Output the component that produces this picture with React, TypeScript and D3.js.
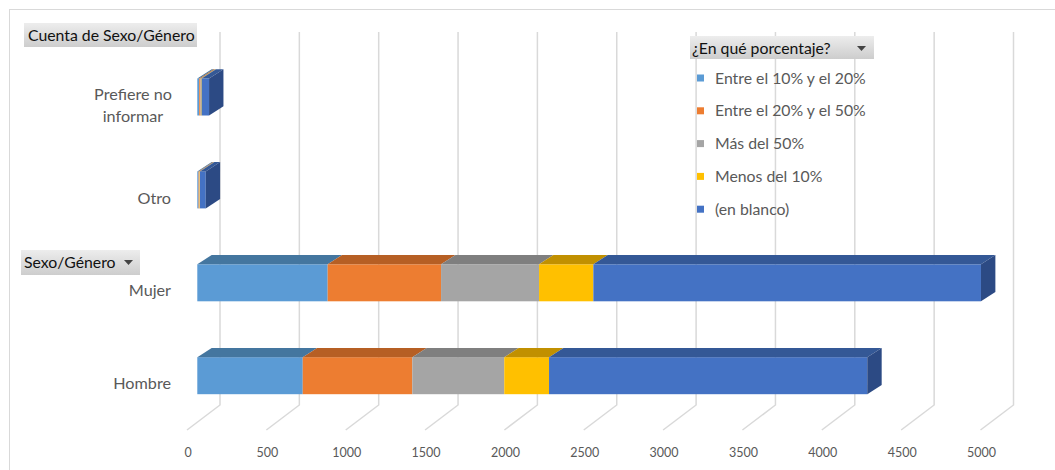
import React from "react";
import * as d3 from "d3";

const categories = ["Hombre", "Mujer", "Otro", "Prefiere no informar"];
const seriesNames = [
  "Entre el 10% y el 20%",
  "Entre el 20% y el 50%",
  "Más del 50%",
  "Menos del 10%",
  "(en blanco)",
];
const entre10y20 = [664, 821, 8, 12];
const entre20y50 = [690, 714, 5, 8];
const mas50 = [579, 617, 2, 3];
const menos10 = [282, 342, 2, 4];
const enBlanco = [2004, 2441, 36, 47];
const xTicks = [0, 500, 1000, 1500, 2000, 2500, 3000, 3500, 4000, 4500, 5000];

const frontColors = ["#5B9BD5", "#ED7D31", "#A5A5A5", "#FFC000", "#4472C4"];
const topColors = ["#44769F", "#B65F24", "#7F7F7F", "#C19000", "#345896"];
const sideColor = "#2C4A84";
const textColor = "#595959";
const gridColor = "#D9D9D9";
const FONT = "Lato, 'Open Sans', sans-serif";

export default function App() {
  const W = 1055;
  const H = 470;

  const rows = categories.map((c, i) => ({
    cat: c,
    s0: entre10y20[i],
    s1: entre20y50[i],
    s2: mas50[i],
    s3: menos10[i],
    s4: enBlanco[i],
  }));
  const keys = ["s0", "s1", "s2", "s3", "s4"];
  const stacked = d3.stack<any>().keys(keys)(rows);

  // front plane of bars
  const x = d3.scaleLinear().domain([0, 5000]).range([197.3, 991.3]);
  // back wall gridlines
  const xBack = d3.scaleLinear().domain([0, 5000]).range([220, 1013.5]);
  const floorDx = -33;
  const wallTop = 32;
  const wallBottom = 405;
  const floorFront = 430;

  const y = d3.scalePoint<string>().domain(categories).range([375.7, 97]);
  const barH = 37;
  const dx = 14.4;
  const dy = 9.3;

  const labelY: Record<string, number[]> = {
    Hombre: [383],
    Mujer: [290],
    Otro: [198],
    "Prefiere no informar": [94, 116],
  };

  const catFs = 16.2;
  const legFs = 15.8;

  return (
    <svg
      width={W}
      height={H}
      style={{ position: "absolute", left: 0, top: 0, background: "#fff" }}
      fontFamily={FONT}
    >
      <rect x={9.5} y={9.5} width={1100} height={500} fill="#fff" stroke={gridColor} strokeWidth={1} />
      <defs>
        <linearGradient id="btn" x1="0" y1="0" x2="0" y2="1">
          <stop offset="0" stopColor="#EDEDED" />
          <stop offset="1" stopColor="#CDCDCD" />
        </linearGradient>
      </defs>

      {/* gridlines */}
      {xTicks.map((t) => (
        <g key={t}>
          <polyline
            points={`${xBack(t)},${wallTop} ${xBack(t)},${wallBottom} ${xBack(t) + floorDx},${floorFront}`}
            fill="none"
            stroke={gridColor}
            strokeWidth={1.5}
          />
          <text
            x={xBack(t) + floorDx + 1}
            y={457}
            textAnchor="middle"
            fontSize={12.5}
            fill={textColor}
          >
            {t}
          </text>
        </g>
      ))}

      {/* bars */}
      {categories.map((c, ci) => {
        const yc = y(c)!;
        const yt = yc - barH / 2;
        const yb = yc + barH / 2;
        const last = stacked[stacked.length - 1][ci][1];
        const xe = x(last);
        return (
          <g key={c}>
            {stacked.map((s, si) => {
              const x0 = x(s[ci][0]);
              const x1 = x(s[ci][1]);
              return (
                <g key={si}>
                  <rect x={x0} y={yt} width={Math.max(0, x1 - x0)} height={barH} fill={frontColors[si]} />
                  <polygon
                    points={`${x0},${yt} ${x1},${yt} ${x1 + dx},${yt - dy} ${x0 + dx},${yt - dy}`}
                    fill={topColors[si]}
                  />
                </g>
              );
            })}
            <polygon
              points={`${xe},${yt} ${xe + dx},${yt - dy} ${xe + dx},${yb - dy} ${xe},${yb}`}
              fill={sideColor}
            />
          </g>
        );
      })}

      {/* category labels */}
      {categories.map((c) => {
        const ys = labelY[c];
        if (ys.length === 1) {
          return (
            <text key={c} x={171} y={ys[0] + 5.5} textAnchor="end" fontSize={catFs} fill={textColor}>
              {c}
            </text>
          );
        }
        return (
          <g key={c}>
            <text x={133} y={ys[0] + 5.5} textAnchor="middle" fontSize={catFs} fill={textColor}>
              Prefiere no
            </text>
            <text x={133} y={ys[1] + 5.5} textAnchor="middle" fontSize={catFs} fill={textColor}>
              informar
            </text>
          </g>
        );
      })}

      {/* field buttons */}
      <rect x={24} y={23} width={173} height={24} fill="url(#btn)" />
      <text x={28} y={40.5} fontSize={legFs} fill="#111">
        Cuenta de Sexo/Género
      </text>
      <rect x={21} y={250} width={119} height={25} fill="url(#btn)" />
      <text x={24} y={268} fontSize={legFs} fill="#111">
        Sexo/Género
      </text>
      <path d="M124,260 L133,260 L128.5,265 Z" fill="#444" />

      {/* legend */}
      <rect x={690} y={36} width={184} height={23} fill="url(#btn)" />
      <text x={692} y={53.5} fontSize={legFs} fill="#111">
        ¿En qué porcentaje?
      </text>
      <path d="M857,46 L866,46 L861.5,51 Z" fill="#444" />
      {seriesNames.map((n, i) => {
        const ly = 78 + i * 32.8;
        return (
          <g key={n}>
            <rect x={697} y={ly - 3.5} width={7} height={7} fill={frontColors[i]} />
            <text x={715} y={ly + 5.5} fontSize={legFs} fill={textColor}>
              {n}
            </text>
          </g>
        );
      })}
    </svg>
  );
}
